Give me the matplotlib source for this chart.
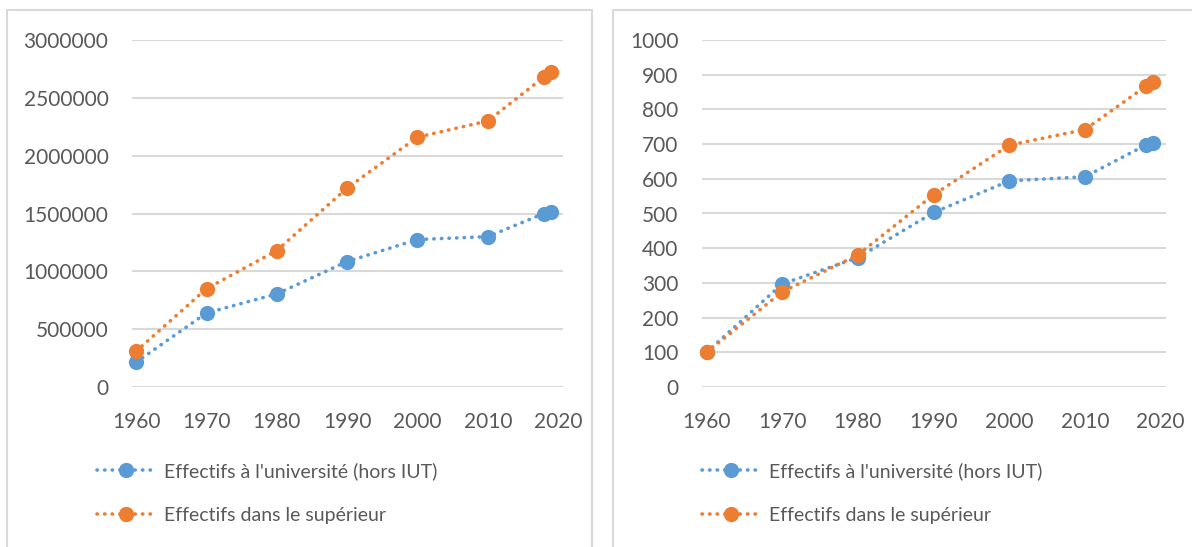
import matplotlib
matplotlib.use('Agg')
import matplotlib.pyplot as plt
from matplotlib.patches import Rectangle
from matplotlib.lines import Line2D

plt.rcParams['font.family'] = ['Lato', 'DejaVu Sans']

years = [1960, 1970, 1980, 1990, 2000, 2010, 2018, 2019]
univ_counts = [215000, 640000, 805000, 1085000, 1275000, 1300000, 1500000, 1515000]
sup_counts = [310000, 850000, 1180000, 1720000, 2160000, 2300000, 2680000, 2725000]
univ_index = [100, 297, 373, 503, 594, 606, 697, 704]
sup_index = [100, 274, 381, 554, 697, 742, 866, 879]

x_ticks = [1960, 1970, 1980, 1990, 2000, 2010, 2020]
left_yticks = [0, 500000, 1000000, 1500000, 2000000, 2500000, 3000000]
right_yticks = [0, 100, 200, 300, 400, 500, 600, 700, 800, 900, 1000]

label_univ = "Effectifs à l'université (hors IUT)"
label_sup = "Effectifs dans le supérieur"

BLUE = '#5B9BD5'
ORANGE = '#ED7D31'
GRID = '#D9D9D9'
TEXT = '#595959'
FONT_SIZE = 15
LEGEND_SIZE = 14
LW = 2.6
DOTS = (0, (0.1, 2.0))

W, H = 1192, 547
fig = plt.figure(figsize=(W / 100, H / 100), dpi=100)

# panel borders (figure pixel coords)
for x0, x1 in [(7, 592), (613, 1200)]:
    fig.patches.append(Rectangle((x0 / W, -0.1), (x1 - x0) / W, 1.1 - 10 / H,
                                 transform=fig.transFigure, fill=False,
                                 edgecolor=GRID, lw=1.5))


def make_axes(px_left, px_right, px_top=40, px_bottom=387):
    return fig.add_axes([px_left / W, 1 - px_bottom / H,
                         (px_right - px_left) / W, (px_bottom - px_top) / H])


def style_axes(ax, yticks):
    ax.set_xlim(1959.4, 2020.7)
    ax.set_ylim(yticks[0], yticks[-1])
    ax.set_xticks(x_ticks)
    ax.set_yticks(yticks)
    ax.set_yticklabels([str(v) for v in yticks])
    for s in ax.spines.values():
        s.set_visible(False)
    ax.grid(axis='y', color=GRID, lw=1.5)
    ax.set_axisbelow(True)
    ax.tick_params(length=0, labelsize=FONT_SIZE, labelcolor=TEXT)
    ax.tick_params(axis='y', pad=17)
    ax.tick_params(axis='x', pad=18)
    ax.patch.set_alpha(0)


def draw_series(ax, univ, sup):
    for vals, color in [(univ, BLUE), (sup, ORANGE)]:
        ax.plot(years, vals, color=color, lw=LW, linestyle=DOTS,
                dash_capstyle='round', marker='o', markersize=11,
                markeredgewidth=0, clip_on=False)


def draw_legend(px_left):
    handles = [Line2D([], [], color=c, lw=LW, linestyle=DOTS, dash_capstyle='round',
                      marker='o', markersize=11, markeredgewidth=0)
               for c in (BLUE, ORANGE)]
    fig.legend(handles, [label_univ, label_sup], loc='upper left',
               bbox_to_anchor=(px_left / W, 1 - 462 / H), frameon=False,
               fontsize=LEGEND_SIZE, labelcolor=TEXT, handlelength=3.0,
               handletextpad=0.45, labelspacing=1.4, borderaxespad=0,
               borderpad=0)


ax1 = make_axes(132, 563)
style_axes(ax1, left_yticks)
draw_series(ax1, univ_counts, sup_counts)
draw_legend(97)

ax2 = make_axes(702, 1166)
style_axes(ax2, right_yticks)
draw_series(ax2, univ_index, sup_index)
draw_legend(702)

fig.savefig('out.png', dpi=100)
